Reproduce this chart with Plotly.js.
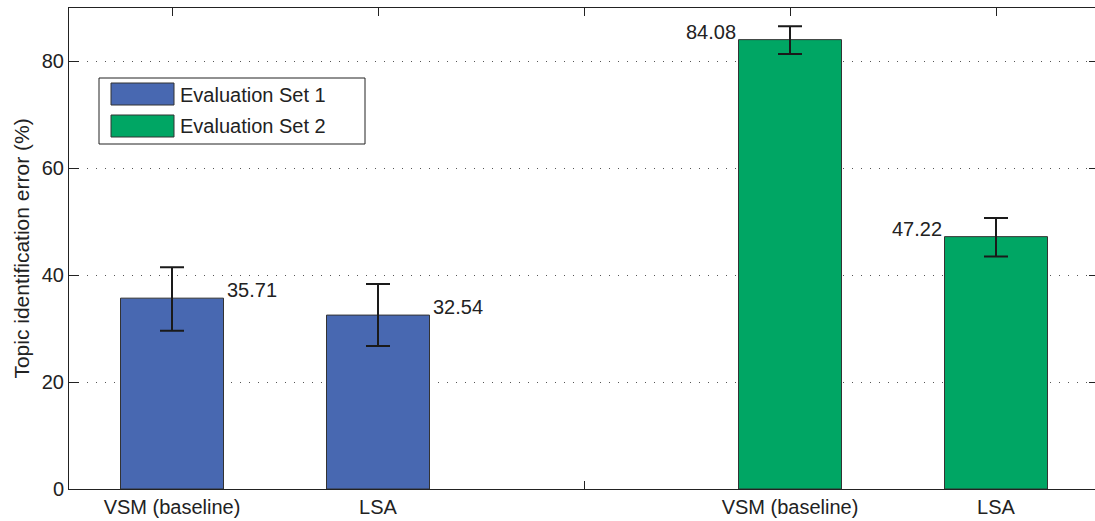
<!DOCTYPE html>
<html>
<head>
<meta charset="utf-8">
<script src="https://cdn.plot.ly/plotly-3.0.1.min.js"></script>
<style>html,body{margin:0;padding:0;background:#fff;overflow:hidden;}#wrap{width:1095px;height:521px;overflow:hidden;}#chart{width:1100px;height:521px;}</style>
</head>
<body>
<div id="wrap"><div id="chart"></div></div>
<script>
// ---- data ----
const tickPositions = [1, 2, 3, 4, 5];
const tickLabels = ['VSM (baseline)', 'LSA', '', 'VSM (baseline)', 'LSA'];
const set1X = [1, 2];
const set1Values = [35.71, 32.54];
const set1ErrPlus = [5.8, 5.8];
const set1ErrMinus = [6.1, 5.8];
const set2X = [4, 5];
const set2Values = [84.08, 47.22];
const set2ErrPlus = [2.5, 3.5];
const set2ErrMinus = [2.7, 3.7];
const seriesNames = ['Evaluation Set 1', 'Evaluation Set 2'];

const blue = '#4868b1';
const green = '#00a664';
const barW = 0.5;
const font = {family: '"Liberation Sans", Arial, Helvetica, sans-serif', size: 20, color: '#222'};
const titleFont = {family: font.family, size: 21, color: '#222'};

const traces = [
  {type: 'bar', name: seriesNames[0], x: set1X, y: set1Values, width: barW,
   marker: {color: blue, line: {color: '#333', width: 1}},
   error_y: {type: 'data', array: set1ErrPlus, arrayminus: set1ErrMinus, color: '#1a1a1a', thickness: 2, width: 12},
   showlegend: false, hoverinfo: 'skip'},
  {type: 'bar', name: seriesNames[1], x: set2X, y: set2Values, width: barW,
   marker: {color: green, line: {color: '#333', width: 1}},
   error_y: {type: 'data', array: set2ErrPlus, arrayminus: set2ErrMinus, color: '#1a1a1a', thickness: 2, width: 12},
   showlegend: false, hoverinfo: 'skip'}
];

const annotations = [];
set1X.forEach((x, i) => annotations.push({
  x: x + barW / 2, y: set1Values[i], xref: 'x', yref: 'y', text: set1Values[i].toFixed(2),
  showarrow: false, xanchor: 'left', yanchor: 'bottom', xshift: 1, yshift: -5, font: font}));
set2X.forEach((x, i) => annotations.push({
  x: x - barW / 2, y: set2Values[i], xref: 'x', yref: 'y', text: set2Values[i].toFixed(2),
  showarrow: false, xanchor: 'right', yanchor: 'bottom', xshift: -1, yshift: -5, font: font}));

// custom legend (large swatches) in pixel-based paper coords
const L = 69, T = 8, W = 1030, H = 481;
const px = p => (p - L) / W;
const py = p => (T + H - p) / H;
const shapes = [
  {type: 'rect', xref: 'paper', yref: 'paper', x0: px(99), x1: px(365), y0: py(144), y1: py(78),
   fillcolor: '#fff', line: {color: '#222', width: 1}, layer: 'above'},
  {type: 'rect', xref: 'paper', yref: 'paper', x0: px(111), x1: px(174), y0: py(105), y1: py(83),
   fillcolor: blue, line: {color: '#333', width: 1}, layer: 'above'},
  {type: 'rect', xref: 'paper', yref: 'paper', x0: px(111), x1: px(174), y0: py(137), y1: py(115),
   fillcolor: green, line: {color: '#333', width: 1}, layer: 'above'}
];
seriesNames.forEach((n, i) => annotations.push({
  xref: 'paper', yref: 'paper', x: px(178), y: py(i === 0 ? 95 : 126), text: n, showarrow: false,
  xanchor: 'left', yanchor: 'middle', font: font}));

const layout = {
  width: 1100, height: 521,
  margin: {l: 69, r: 1, t: 8, b: 32, pad: 0},
  paper_bgcolor: '#fff', plot_bgcolor: '#fff',
  font: font,
  barmode: 'overlay',
  showlegend: false,
  xaxis: {
    range: [0.5, 5.5], tickmode: 'array', tickvals: tickPositions, ticktext: tickLabels,
    ticks: 'inside', ticklen: 8, tickcolor: '#222', tickwidth: 1,
    showline: true, linecolor: '#222', linewidth: 1, mirror: 'ticks',
    showgrid: false, zeroline: false, layer: 'below traces', tickfont: font, fixedrange: true
  },
  yaxis: {
    range: [0, 90], tickvals: [0, 20, 40, 60, 80], ticks: 'inside', ticklen: 10, tickcolor: '#222', tickwidth: 1,
    showline: true, linecolor: '#222', linewidth: 1, mirror: 'ticks',
    showgrid: true, gridcolor: '#555', gridwidth: 1, griddash: '1px,8px', zeroline: false,
    tickfont: font, title: {text: 'Topic identification error (%)', font: titleFont, standoff: 6}, fixedrange: true
  },
  shapes: shapes,
  annotations: annotations
};

Plotly.newPlot('chart', traces, layout, {displayModeBar: false, staticPlot: true});
</script>
</body>
</html>
